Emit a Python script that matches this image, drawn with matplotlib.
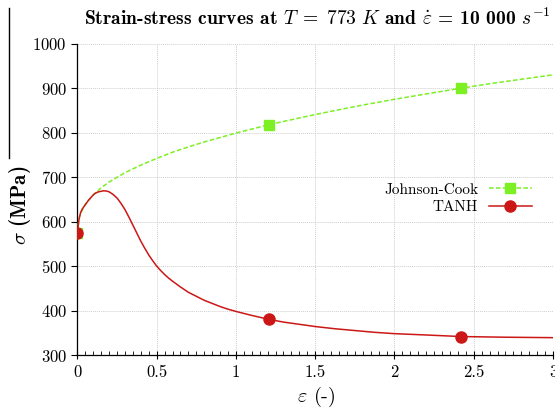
import matplotlib
matplotlib.use("Agg")
import matplotlib.pyplot as plt
from matplotlib.lines import Line2D
from matplotlib.ticker import MultipleLocator

# ---- data ----
jc_strain = [0.0, 0.01, 0.02, 0.05, 0.1, 0.15, 0.2, 0.3, 0.4, 0.5, 0.6, 0.7, 0.8,
             0.9, 1.0, 1.21, 1.4, 1.6, 1.8, 2.0, 2.2, 2.42, 2.6, 2.8, 3.0]
jc_stress = [575, 607, 618, 639, 660, 676, 689, 710, 727, 742, 756, 768, 779,
             789, 799, 818, 833, 848, 862, 875, 887, 900, 910, 920, 930]
jc_marks = [0, 15, 21]

tanh_strain = [0.0, 0.01, 0.02, 0.03, 0.04, 0.05, 0.06, 0.07, 0.08, 0.09, 0.10,
               0.11, 0.12, 0.13, 0.14, 0.15, 0.16, 0.17, 0.18, 0.19, 0.2, 0.225,
               0.25, 0.275, 0.3, 0.325, 0.35, 0.375, 0.4, 0.425, 0.45, 0.475,
               0.5, 0.525, 0.55, 0.575, 0.6, 0.65, 0.7, 0.75, 0.8, 0.85, 0.9,
               0.95, 1.0, 1.1, 1.21, 1.3, 1.4, 1.5, 1.625, 1.75, 1.875, 2.0,
               2.2, 2.42, 2.7, 3.0]
tanh_stress = [575, 605, 620, 628, 633, 638, 643, 648, 652, 656, 660,
               663, 665, 666.5, 667.5, 668, 669, 669, 669, 668, 667, 661,
               653, 641, 627, 610, 592, 574, 556, 540, 525, 512,
               500, 490, 481, 473, 466, 453, 441, 432, 423, 416, 409,
               403, 398, 389, 380, 374, 369, 364, 359, 355, 351, 348,
               345, 341.5, 340, 339]
tanh_marks = [0, 46, 55]

x_ticks = [0, 0.5, 1, 1.5, 2, 2.5, 3]
x_ticklabels = ["0", "0.5", "1", "1.5", "2", "2.5", "3"]
y_ticks = [300, 400, 500, 600, 700, 800, 900, 1000]

plt.rcParams["font.family"] = "cmr10"
plt.rcParams["mathtext.fontset"] = "cm"
plt.rcParams["axes.unicode_minus"] = False
plt.rcParams["axes.formatter.use_mathtext"] = True

W, H = 555, 409
fig = plt.figure(figsize=(W / 100, H / 100), dpi=100)
ax = fig.add_axes([77.4 / W, 1 - 355 / H, (553 - 77.4) / W, (355 - 43.7) / H])

green = "#7cf023"
red = "#cc1717"

ax.plot(jc_strain, jc_stress, color=green, ls=(0, (3, 1.5)), lw=1.1,
        marker="s", markersize=7, markevery=jc_marks, label="Johnson-Cook", zorder=3)
ax.plot(tanh_strain, tanh_stress, color=red, ls="-", lw=1.1,
        marker="o", markersize=8, markevery=tanh_marks, label="TANH", zorder=4)

ax.set_xlim(0, 3)
ax.set_ylim(300, 1000)
ax.set_xticks(x_ticks)
ax.set_xticklabels(x_ticklabels)
ax.set_yticks(y_ticks)
ax.xaxis.set_minor_locator(MultipleLocator(0.05))
ax.tick_params(axis="x", which="major", direction="inout", length=6, width=0.8,
               labelsize=12, pad=4)
ax.tick_params(axis="x", which="minor", direction="in", length=3, width=0.6)
ax.tick_params(axis="y", which="major", direction="out", length=4, width=0.8,
               labelsize=12)

for s in ["top", "right"]:
    ax.spines[s].set_visible(False)
for s in ["left", "bottom"]:
    ax.spines[s].set_linewidth(0.9)

ax.grid(True, which="major", color="#cfcfcf", ls=(0, (1, 1)), lw=0.7)
ax.set_axisbelow(True)

fig.text(317 / W, 1 - 18 / H,
         r"Strain-stress curves at $T\;=\;773\ K$ and $\dot{\varepsilon}$ = 10 000 $s^{-1}$",
         fontfamily="cmb10", fontsize=14.1, ha="center", va="center")
fig.text(316 / W, 1 - 397 / H, r"$\varepsilon$ (-)", fontsize=14.5,
         ha="center", va="center")
fig.text(20 / W, 1 - 205 / H, r"$\sigma$ (MPa)", fontfamily="cmb10", fontsize=15,
         ha="center", va="center", rotation=90)

ax.legend(loc="upper right", bbox_to_anchor=(0.955, 0.553), frameon=False,
          markerfirst=False, fontsize=11, handlelength=2.8, handletextpad=0.7,
          borderaxespad=0, borderpad=0, labelspacing=0.25)

fig.add_artist(Line2D([9 / W, 9 / W], [1 - 8 / H, 1 - 158 / H],
                      color="black", lw=1.0))

fig.savefig("out.png", dpi=100)
